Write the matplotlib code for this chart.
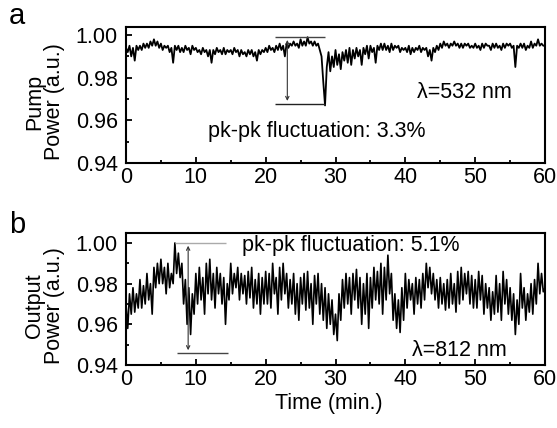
import numpy as np
import matplotlib
matplotlib.use("Agg")
import matplotlib.pyplot as plt
from matplotlib.ticker import MultipleLocator

plt.rcParams['font.family'] = ['Liberation Sans', 'DejaVu Sans']

pump_power = [
    0.994,0.992,0.995,0.990, 0.994,0.988,0.995,0.993, 0.995,0.993,0.996,0.994,
    0.996,0.994,0.997,0.995, 0.998,0.995,0.997,0.994, 0.996,0.993,0.995,0.994,
    0.995,0.992,0.994,0.987, 0.995,0.993,0.995,0.992, 0.994,0.992,0.995,0.993,
    0.994,0.991,0.995,0.993, 0.994,0.992,0.993,0.991, 0.994,0.992,0.993,0.990,
    0.993,0.987,0.993,0.991, 0.994,0.992,0.993,0.991, 0.994,0.991,0.993,0.992,
    0.993,0.991,0.994,0.992, 0.993,0.990,0.993,0.991, 0.992,0.990,0.993,0.991,
    0.993,0.990,0.992,0.988, 0.993,0.991,0.993,0.992, 0.994,0.992,0.995,0.993,
    0.994,0.992,0.995,0.993, 0.996,0.993,0.995,0.990, 0.996,0.994,0.996,0.995,
    0.997,0.995,0.996,0.994, 0.998,0.995,0.997,0.995, 0.999,0.996,0.997,0.995,
    0.997,0.995,0.996,0.993, 0.990,0.978,0.967,0.985, 0.992,0.983,0.990,0.985,
    0.993,0.986,0.991,0.984, 0.992,0.988,0.993,0.987, 0.994,0.986,0.993,0.989,
    0.994,0.990,0.993,0.986, 0.994,0.991,0.995,0.989, 0.995,0.992,0.994,0.987,
    0.995,0.993,0.996,0.993, 0.996,0.993,0.995,0.992, 0.996,0.993,0.995,0.994,
    0.995,0.992,0.994,0.993, 0.994,0.992,0.995,0.991, 0.994,0.992,0.994,0.993,
    0.995,0.992,0.994,0.993, 0.994,0.990,0.993,0.988, 0.994,0.992,0.995,0.993,
    0.996,0.994,0.997,0.995, 0.996,0.994,0.996,0.995, 0.997,0.995,0.996,0.994,
    0.996,0.994,0.996,0.995, 0.996,0.994,0.995,0.994, 0.996,0.994,0.995,0.993,
    0.996,0.994,0.996,0.995, 0.995,0.993,0.996,0.994, 0.996,0.994,0.995,0.993,
    0.996,0.994,0.996,0.995, 0.996,0.994,0.995,0.985, 0.995,0.994,0.996,0.994,
    0.996,0.993,0.995,0.994, 0.997,0.994,0.996,0.995, 0.998,0.995,0.996,0.995,
    0.995,
]

output_power = [
    0.970,0.958,0.975,0.965, 0.978,0.966,0.975,0.968, 0.982,0.968,0.979,0.970,
    0.985,0.972,0.980,0.965, 0.988,0.978,0.990,0.980, 0.992,0.980,0.988,0.975,
    0.990,0.978,0.985,0.980, 1.000,0.985,0.995,0.983, 0.990,0.970,0.982,0.960,
    0.978,0.955,0.975,0.965, 0.985,0.970,0.988,0.972, 0.983,0.965,0.990,0.975,
    0.992,0.972,0.985,0.968, 0.988,0.975,0.985,0.970, 0.983,0.960,0.980,0.972,
    0.990,0.975,0.985,0.978, 0.988,0.972,0.985,0.975, 0.984,0.970,0.986,0.973,
    0.988,0.968,0.982,0.970, 0.985,0.965,0.983,0.970, 0.986,0.970,0.985,0.968,
    0.990,0.975,0.983,0.965, 0.988,0.972,0.990,0.975, 0.985,0.968,0.982,0.970,
    0.985,0.965,0.980,0.962, 0.983,0.970,0.985,0.967, 0.986,0.968,0.980,0.960,
    0.984,0.970,0.985,0.965, 0.980,0.962,0.978,0.958, 0.975,0.960,0.972,0.955,
    0.965,0.952,0.975,0.962, 0.982,0.968,0.985,0.970, 0.983,0.965,0.985,0.972,
    0.987,0.968,0.983,0.960, 0.980,0.965,0.985,0.958, 0.983,0.968,0.988,0.972,
    0.986,0.970,0.990,0.965, 0.988,0.972,0.994,0.975, 0.985,0.962,0.975,0.958,
    0.972,0.956,0.978,0.962, 0.985,0.968,0.982,0.972, 0.980,0.965,0.983,0.970,
    0.982,0.968,0.985,0.972, 0.990,0.978,0.988,0.975, 0.985,0.972,0.982,0.968,
    0.983,0.970,0.980,0.967, 0.982,0.968,0.985,0.970, 0.980,0.966,0.986,0.970,
    0.988,0.972,0.985,0.975, 0.986,0.970,0.984,0.968, 0.982,0.968,0.986,0.972,
    0.984,0.965,0.980,0.968, 0.978,0.962,0.976,0.965, 0.984,0.966,0.980,0.962,
    0.986,0.970,0.982,0.965, 0.978,0.962,0.975,0.955, 0.972,0.960,0.985,0.968,
    0.978,0.962,0.975,0.966, 0.980,0.965,0.982,0.970, 0.990,0.975,0.985,0.976,
    0.978,
]

x_ticks = [0, 10, 20, 30, 40, 50, 60]
y_ticks = [0.94, 0.96, 0.98, 1.00]

t_pump = np.linspace(0, 60, len(pump_power))
t_out = np.linspace(0, 60, len(output_power))

fig = plt.figure(figsize=(5.57, 4.28), dpi=100)
ax1 = fig.add_axes([0.2262, 0.6192, 0.7523, 0.3178])
ax2 = fig.add_axes([0.2262, 0.1472, 0.7523, 0.3084])

FS = 15.5
for ax, ylim in ((ax1, (0.94, 1.0038)), (ax2, (0.94, 1.0049))):
    ax.set_xlim(0, 60)
    ax.set_ylim(*ylim)
    ax.set_xticks(x_ticks)
    ax.set_yticks(y_ticks)
    ax.set_yticklabels([f"{v:.2f}" for v in y_ticks])
    ax.xaxis.set_minor_locator(MultipleLocator(5))
    ax.yaxis.set_minor_locator(MultipleLocator(0.01))
    ax.tick_params(which='both', direction='in', top=False, right=False,
                   labelsize=FS, width=1.3)
    ax.tick_params(axis='y', pad=6)
    ax.tick_params(axis='x', pad=3)
    ax.tick_params(which='major', length=4)
    ax.tick_params(which='minor', length=2.5)
    for s in ax.spines.values():
        s.set_linewidth(1.5)

ax1.plot(t_pump, pump_power, color='black', lw=1.3)
ax2.plot(t_out, output_power, color='black', lw=1.2)

# pump annotation
ax1.hlines(0.999, 21.3, 28.5, color='#444444', lw=1.0)
ax1.hlines(0.9678, 21.3, 28.5, color='#222222', lw=1.0)
ax1.annotate('', xy=(23.1, 0.9678), xytext=(23.1, 0.999),
             arrowprops=dict(arrowstyle='<->', color='#333333', lw=0.8,
                             mutation_scale=6))
ax1.text(0.196, 0.23, 'pk-pk fluctuation: 3.3%', transform=ax1.transAxes,
         fontsize=FS, va='center', ha='left')
ax1.text(0.695, 0.52, 'λ=532 nm', transform=ax1.transAxes,
         fontsize=FS, va='center', ha='left')
ax1.set_ylabel('Pump\nPower (a.u.)', fontsize=FS, labelpad=9, linespacing=0.95)
ax1.yaxis.set_label_coords(-0.145, 0.45)

# output annotation
ax2.hlines(1.0, 7.0, 14.3, color='#aaaaaa', lw=1.0)
ax2.hlines(0.9459, 7.3, 14.6, color='#444444', lw=1.0)
ax2.annotate('', xy=(8.9, 0.9459), xytext=(8.9, 1.0),
             arrowprops=dict(arrowstyle='<->', color='#333333', lw=0.8,
                             mutation_scale=6))
ax2.text(0.277, 0.905, 'pk-pk fluctuation: 5.1%', transform=ax2.transAxes,
         fontsize=FS, va='center', ha='left')
ax2.text(0.682, 0.11, 'λ=812 nm', transform=ax2.transAxes,
         fontsize=FS, va='center', ha='left')
ax2.set_ylabel('Output\nPower (a.u.)', fontsize=FS, labelpad=9, linespacing=0.95)
ax2.yaxis.set_label_coords(-0.145, 0.45)
ax2.set_xlabel('Time (min.)', fontsize=FS)
ax2.xaxis.set_label_coords(0.483, -0.215)

fig.text(0.016, 0.962, 'a', fontsize=21, va='center', ha='left')
fig.text(0.016, 0.474, 'b', fontsize=21, va='center', ha='left')

fig.savefig('out.png', dpi=100)
